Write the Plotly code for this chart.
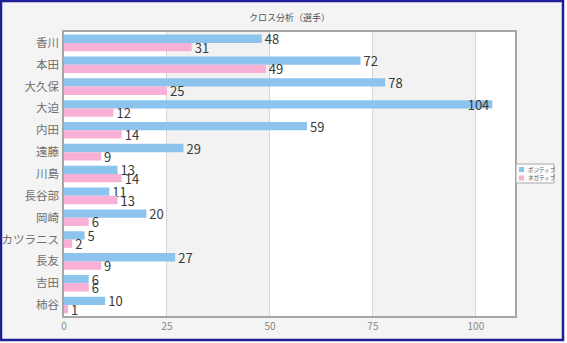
import plotly.graph_objects as go

# ---- data ----
players = ["香川", "本田", "大久保", "大迫", "内田", "遠藤", "川島", "長谷部",
           "岡崎", "カツラニス", "長友", "吉田", "柿谷"]
positive = [48, 72, 78, 104, 59, 29, 13, 11, 20, 5, 27, 6, 10]
negative = [31, 49, 25, 12, 14, 9, 14, 13, 6, 2, 9, 6, 1]
series_names = ["ポジティブ", "ネガティブ"]
x_ticks = [0, 25, 50, 75, 100]
title_text = "クロス分析（選手）"

# ---- style ----
W, H = 567, 343
ML, MR, MT, MB = 64, 52, 32, 27
PW, PH = W - ML - MR, H - MT - MB
X_MAX = 109.5
BLUE = "#8cc4ee"
PINK = "#f9b0d6"
FONT = "Noto Sans CJK JP"


def px(x):
    return (x - ML) / PW


def py(y):
    return (H - MB - y) / PH


def positions(vals):
    return ["inside" if v > X_MAX - 6 else "outside" for v in vals]


fig = go.Figure()
for name, vals, col in [(series_names[0], positive, BLUE), (series_names[1], negative, PINK)]:
    fig.add_trace(go.Bar(
        y=players, x=vals, name=name, orientation="h",
        marker=dict(color=col, line=dict(width=0)),
        text=[str(v) for v in vals], textposition=positions(vals),
        insidetextanchor="end", constraintext="none", cliponaxis=False,
        textfont=dict(family=FONT, size=13, color="#3a3a3a"),
        insidetextfont=dict(family=FONT, size=13, color="#3a3a3a"),
        outsidetextfont=dict(family=FONT, size=13, color="#3a3a3a"),
        showlegend=False, hoverinfo="skip",
    ))

shapes = []
# alternating bands
for a, b in [(25, 50), (75, 100)]:
    shapes.append(dict(type="rect", xref="x", yref="paper", x0=a, x1=b, y0=0, y1=1,
                       fillcolor="#f2f2f2", line=dict(width=0), layer="below"))
# white strips outside frame (right / bottom)
shapes.append(dict(type="rect", xref="paper", yref="paper", x0=px(564), x1=px(W + 5),
                   y0=py(H + 5), y1=py(-5), fillcolor="white", line=dict(width=0), layer="above"))
shapes.append(dict(type="rect", xref="paper", yref="paper", x0=px(-5), x1=px(W + 5),
                   y0=py(H + 5), y1=py(341), fillcolor="white", line=dict(width=0), layer="above"))
# outer frame
shapes.append(dict(type="rect", xref="paper", yref="paper", x0=px(1), x1=px(563),
                   y0=py(340), y1=py(1), line=dict(color="#1e1e96", width=2.5), layer="above"))
# legend box
shapes.append(dict(type="rect", xref="paper", yref="paper", x0=px(516), x1=px(554),
                   y0=py(183), y1=py(164), fillcolor="#fbfbfb",
                   line=dict(color="#a8a8a8", width=1), layer="above"))
annotations = [dict(text=title_text, xref="paper", yref="paper", x=0.5, y=py(17.5),
                    xanchor="center", yanchor="middle", showarrow=False,
                    font=dict(family=FONT, size=9, color="#555555"))]
for i, (name, col) in enumerate(zip(series_names, [BLUE, PINK])):
    yc = 169.5 + i * 8.5
    shapes.append(dict(type="rect", xref="paper", yref="paper", x0=px(519), x1=px(524),
                       y0=py(yc + 2.5), y1=py(yc - 2.5), fillcolor=col,
                       line=dict(width=0), layer="above"))
    annotations.append(dict(text=name, xref="paper", yref="paper", x=px(525.5), y=py(yc),
                            xanchor="left", yanchor="middle", showarrow=False,
                            font=dict(family=FONT, size=5.5, color="#555555")))

fig.update_layout(
    width=W, height=H,
    margin=dict(l=ML, r=MR, t=MT, b=MB, pad=0, autoexpand=False),
    paper_bgcolor="#f4f4f4", plot_bgcolor="white",
    barmode="group", bargap=0.24, bargroupgap=0,
    shapes=shapes, annotations=annotations,
    xaxis=dict(range=[0, X_MAX], tickvals=x_ticks, showgrid=True, gridcolor="#d6d6d6",
               gridwidth=1, zeroline=False, showline=True, linecolor="#a6a6a6",
               linewidth=1.5, mirror=True, ticks="", automargin=False,
               tickfont=dict(family=FONT, size=10, color="#888888")),
    yaxis=dict(autorange="reversed", showgrid=False, zeroline=False, showline=True,
               linecolor="#a6a6a6", linewidth=1.5, mirror=True, ticks="outside",
               ticklen=1, tickcolor="rgba(0,0,0,0)", automargin=False,
               tickfont=dict(family=FONT, size=11.5, color="#707070")),
    font=dict(family=FONT),
)

fig.write_html("out.html")
